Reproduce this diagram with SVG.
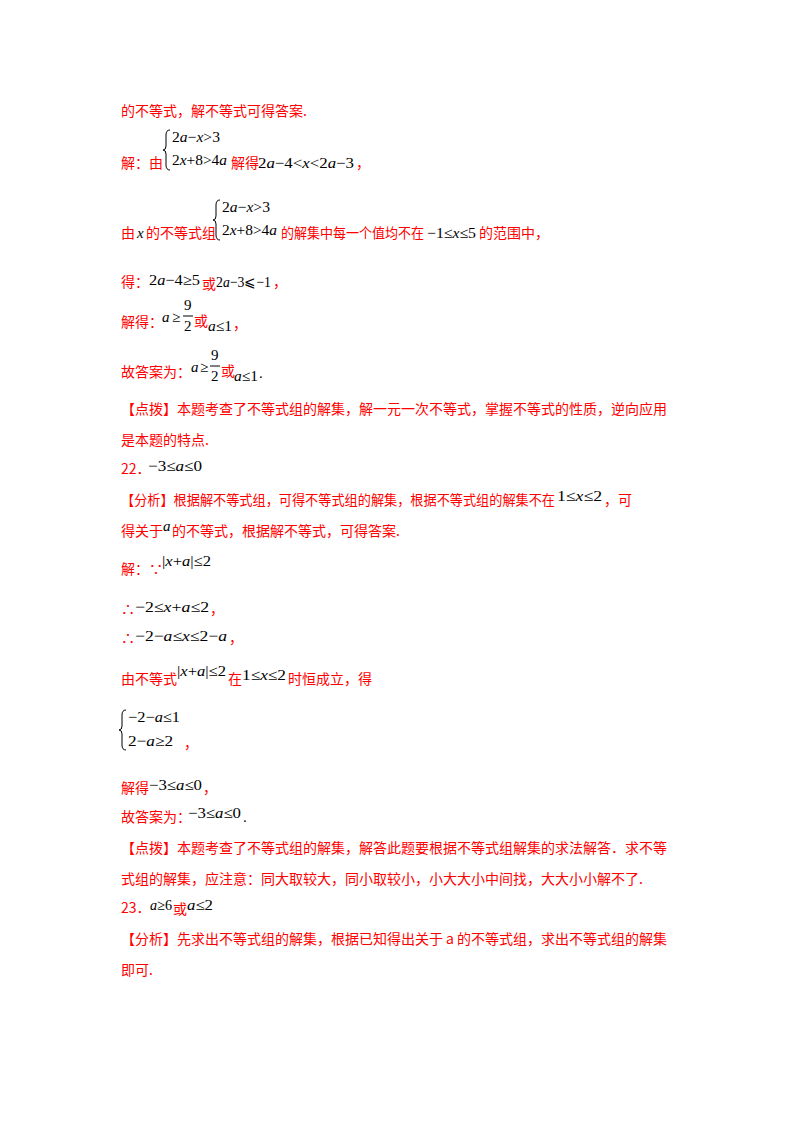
<svg xmlns="http://www.w3.org/2000/svg" width="800" height="1132" viewBox="0 0 800 1132">
<style>
.r{fill:#ff0000;font-family:"Noto Sans CJK SC","Liberation Serif",serif;font-size:14px}
.m{fill:#000;font-family:"Liberation Serif",serif;font-size:15px}
.i{font-style:italic}
.b{fill:none;stroke:#000;stroke-width:1}
</style>
<rect width="800" height="1132" fill="#fff"/>
<text class="r" x="121" y="116">的不等式，解不等式可得答案.</text>
<path class="b" d="M170,130 q-4,0 -4,5 v11 q0,4 -3,4 q3,0 3,4 v11 q0,5 4,5"/>
<text class="m" x="172" y="142" textLength="48" lengthAdjust="spacingAndGlyphs">2<tspan class="i">a</tspan>−<tspan class="i">x</tspan>&gt;3</text>
<text class="r" x="121" y="168">解：由</text>
<text class="m" x="172" y="165" textLength="55" lengthAdjust="spacingAndGlyphs">2<tspan class="i">x</tspan>+8&gt;4<tspan class="i">a</tspan></text>
<text class="r" x="231" y="168">解得</text>
<text class="m" x="258" y="168" textLength="96" lengthAdjust="spacingAndGlyphs">2<tspan class="i">a</tspan>−4&lt;<tspan class="i">x</tspan>&lt;2<tspan class="i">a</tspan>−3</text>
<text class="r" x="356" y="168">，</text>
<path class="b" d="M220,200 q-4,0 -4,5 v11 q0,4 -3,4 q3,0 3,4 v11 q0,5 4,5"/>
<text class="m" x="222" y="212" textLength="48" lengthAdjust="spacingAndGlyphs">2<tspan class="i">a</tspan>−<tspan class="i">x</tspan>&gt;3</text>
<text class="r" x="121" y="238">由</text>
<text class="m i" x="137" y="238">x</text>
<text class="r" x="146" y="238">的不等式组</text>
<text class="m" x="222" y="235" textLength="55" lengthAdjust="spacingAndGlyphs">2<tspan class="i">x</tspan>+8&gt;4<tspan class="i">a</tspan></text>
<text class="r" x="281" y="238" textLength="143" lengthAdjust="spacingAndGlyphs">的解集中每一个值均不在</text>
<text class="m" x="427" y="238" font-size="14" textLength="49" lengthAdjust="spacingAndGlyphs">−1≤<tspan class="i">x</tspan>≤5</text>
<text class="r" x="479" y="238">的范围中，</text>
<text class="r" x="121" y="287">得：</text>
<text class="m" x="149" y="285" textLength="51" lengthAdjust="spacingAndGlyphs">2<tspan class="i">a</tspan>−4≥5</text>
<text class="r" x="202" y="289">或</text>
<text class="m" x="216" y="287" font-size="14" textLength="55" lengthAdjust="spacingAndGlyphs">2<tspan class="i">a</tspan>−3⩽−1</text>
<text class="r" x="273" y="287">，</text>
<text class="r" x="121" y="327">解得：</text>
<text class="m i" x="162" y="322">a</text><text class="m" x="172" y="322">≥</text>
<text class="m" x="184" y="310">9</text><line x1="183" y1="316" x2="193" y2="316" stroke="#000"/>
<text class="m" x="184" y="331">2</text>
<text class="r" x="194" y="326">或</text>
<text class="m" x="208" y="331" textLength="24" lengthAdjust="spacingAndGlyphs"><tspan class="i">a</tspan>≤1</text>
<text class="r" x="233" y="329">，</text>
<text class="r" x="121" y="377">故答案为：</text>
<text class="m i" x="191" y="372">a</text><text class="m" x="200" y="372">≥</text>
<text class="m" x="211" y="360">9</text><line x1="210" y1="366" x2="220" y2="366" stroke="#000"/>
<text class="m" x="211" y="381">2</text>
<text class="r" x="221" y="376">或</text>
<text class="m" x="234" y="381" textLength="24" lengthAdjust="spacingAndGlyphs"><tspan class="i">a</tspan>≤1</text>
<text class="m" x="259" y="378">.</text>
<text class="r" x="121" y="414" textLength="546">【点拨】本题考查了不等式组的解集，解一元一次不等式，掌握不等式的性质，逆向应用</text>
<text class="r" x="121" y="445">是本题的特点.</text>
<text class="r" x="121" y="474">22．</text>
<text class="m" x="148" y="471" textLength="54" lengthAdjust="spacingAndGlyphs">−3≤<tspan class="i">a</tspan>≤0</text>
<text class="r" x="121" y="505" textLength="434" lengthAdjust="spacingAndGlyphs">【分析】根据解不等式组，可得不等式组的解集，根据不等式组的解集不在</text>
<text class="m" x="557" y="501" textLength="45" lengthAdjust="spacingAndGlyphs">1≤<tspan class="i">x</tspan>≤2</text>
<text class="r" x="604" y="505">，可</text>
<text class="r" x="121" y="536">得关于</text>
<text class="m i" x="163" y="531">a</text>
<text class="r" x="172" y="536">的不等式，根据解不等式，可得答案.</text>
<text class="r" x="121" y="574">解：∵</text>
<text class="m" x="162" y="566" textLength="49" lengthAdjust="spacingAndGlyphs">|<tspan class="i">x</tspan>+<tspan class="i">a</tspan>|≤2</text>
<text class="r" x="121" y="614">∴</text>
<text class="m" x="135" y="612" textLength="74" lengthAdjust="spacingAndGlyphs">−2≤<tspan class="i">x</tspan>+<tspan class="i">a</tspan>≤2</text>
<text class="r" x="210" y="614">，</text>
<text class="r" x="121" y="643">∴</text>
<text class="m" x="135" y="641" textLength="92" lengthAdjust="spacingAndGlyphs">−2−<tspan class="i">a</tspan>≤<tspan class="i">x</tspan>≤2−<tspan class="i">a</tspan></text>
<text class="r" x="229" y="643">，</text>
<text class="r" x="121" y="684">由不等式</text>
<text class="m" x="177" y="676" textLength="49" lengthAdjust="spacingAndGlyphs">|<tspan class="i">x</tspan>+<tspan class="i">a</tspan>|≤2</text>
<text class="r" x="228" y="684">在</text>
<text class="m" x="242" y="680" textLength="44" lengthAdjust="spacingAndGlyphs">1≤<tspan class="i">x</tspan>≤2</text>
<text class="r" x="288" y="684">时恒成立，得</text>
<path class="b" d="M126,710 q-4,0 -4,5 v11 q0,4 -3,4 q3,0 3,4 v11 q0,5 4,5"/>
<text class="m" x="128" y="722" textLength="52" lengthAdjust="spacingAndGlyphs">−2−<tspan class="i">a</tspan>≤1</text>
<text class="m" x="128" y="746" textLength="45" lengthAdjust="spacingAndGlyphs">2−<tspan class="i">a</tspan>≥2</text>
<text class="r" x="184" y="748">，</text>
<text class="r" x="121" y="793">解得</text>
<text class="m" x="149" y="790" textLength="53" lengthAdjust="spacingAndGlyphs">−3≤<tspan class="i">a</tspan>≤0</text>
<text class="r" x="203" y="793">，</text>
<text class="r" x="121" y="822">故答案为：</text>
<text class="m" x="188" y="818" textLength="53" lengthAdjust="spacingAndGlyphs">−3≤<tspan class="i">a</tspan>≤0</text>
<text class="m" x="243" y="822">.</text>
<text class="r" x="121" y="853" textLength="546">【点拨】本题考查了不等式组的解集，解答此题要根据不等式组解集的求法解答．求不等</text>
<text class="r" x="121" y="884">式组的解集，应注意：同大取较大，同小取较小，小大大小中间找，大大小小解不了.</text>
<text class="r" x="121" y="913">23．</text>
<text class="m" x="150" y="910" textLength="22" lengthAdjust="spacingAndGlyphs"><tspan class="i">a</tspan>≥6</text>
<text class="r" x="173" y="914">或</text>
<text class="m" x="187" y="910" textLength="26" lengthAdjust="spacingAndGlyphs"><tspan class="i">a</tspan>≤2</text>
<text class="r" x="121" y="944" textLength="546">【分析】先求出不等式组的解集，根据已知得出关于 a 的不等式组，求出不等式组的解集</text>
<text class="r" x="121" y="975">即可.</text>
</svg>
